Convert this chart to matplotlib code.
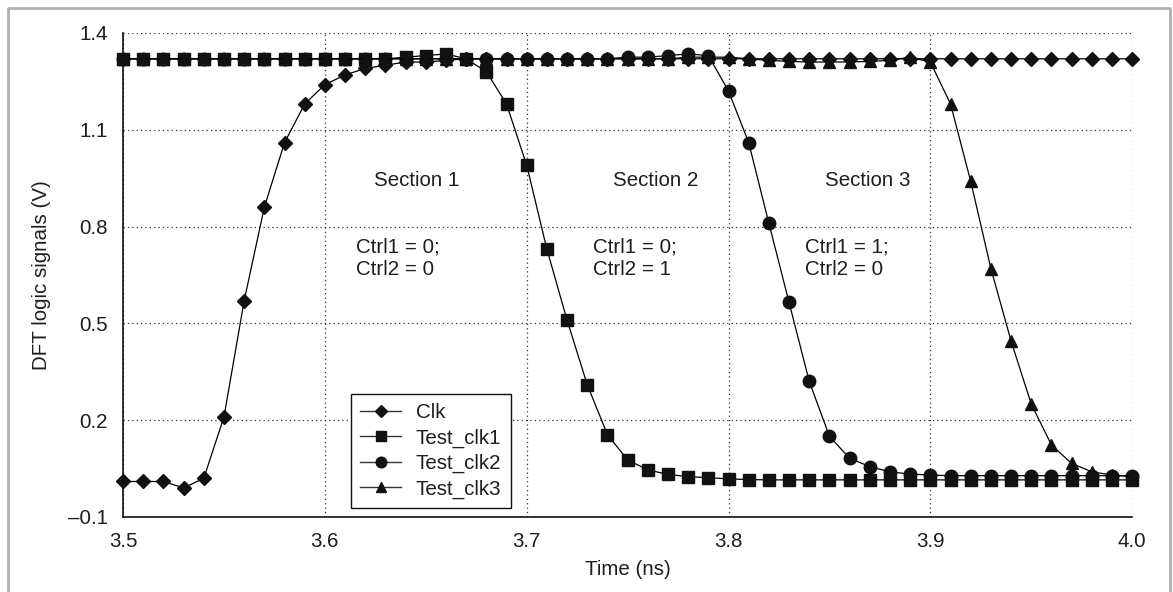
import matplotlib.pyplot as plt
from matplotlib.lines import Line2D

plt.rcParams['font.family'] = ['Liberation Sans', 'DejaVu Sans']

# time axis, one sample every 0.01 ns
time_ns = [3.50, 3.51, 3.52, 3.53, 3.54, 3.55, 3.56, 3.57, 3.58, 3.59,
           3.60, 3.61, 3.62, 3.63, 3.64, 3.65, 3.66, 3.67, 3.68, 3.69,
           3.70, 3.71, 3.72, 3.73, 3.74, 3.75, 3.76, 3.77, 3.78, 3.79,
           3.80, 3.81, 3.82, 3.83, 3.84, 3.85, 3.86, 3.87, 3.88, 3.89,
           3.90, 3.91, 3.92, 3.93, 3.94, 3.95, 3.96, 3.97, 3.98, 3.99,
           4.00]

clk = [0.01, 0.01, 0.01, -0.01, 0.02, 0.21, 0.57, 0.86, 1.06, 1.18,
       1.24, 1.27, 1.29, 1.30, 1.31, 1.31, 1.315, 1.32, 1.32, 1.32,
       1.32, 1.32, 1.32, 1.32, 1.32, 1.32, 1.32, 1.32, 1.32, 1.32,
       1.32, 1.32, 1.32, 1.32, 1.32, 1.32, 1.32, 1.32, 1.32, 1.32,
       1.32, 1.32, 1.32, 1.32, 1.32, 1.32, 1.32, 1.32, 1.32, 1.32,
       1.32]

test_clk1 = [1.32, 1.32, 1.32, 1.32, 1.32, 1.32, 1.32, 1.32, 1.32, 1.32,
             1.32, 1.32, 1.32, 1.32, 1.325, 1.33, 1.335, 1.32, 1.28, 1.18,
             0.99, 0.73, 0.51, 0.31, 0.155, 0.077, 0.046, 0.032, 0.025, 0.022,
             0.018, 0.016, 0.015, 0.015, 0.015, 0.015, 0.015, 0.015, 0.015, 0.015,
             0.015, 0.015, 0.015, 0.015, 0.015, 0.015, 0.015, 0.015, 0.015, 0.015,
             0.015]

test_clk2 = [1.32, 1.32, 1.32, 1.32, 1.32, 1.32, 1.32, 1.32, 1.32, 1.32,
             1.32, 1.32, 1.32, 1.32, 1.32, 1.32, 1.32, 1.32, 1.32, 1.32,
             1.32, 1.32, 1.32, 1.32, 1.32, 1.325, 1.325, 1.33, 1.335, 1.33,
             1.22, 1.06, 0.81, 0.565, 0.32, 0.15, 0.082, 0.056, 0.04, 0.033,
             0.03, 0.028, 0.028, 0.028, 0.028, 0.028, 0.028, 0.028, 0.028, 0.028,
             0.028]

test_clk3 = [1.32, 1.32, 1.32, 1.32, 1.32, 1.32, 1.32, 1.32, 1.32, 1.32,
             1.32, 1.32, 1.32, 1.32, 1.32, 1.32, 1.32, 1.32, 1.32, 1.32,
             1.32, 1.32, 1.32, 1.32, 1.32, 1.32, 1.32, 1.32, 1.325, 1.325,
             1.325, 1.32, 1.315, 1.312, 1.31, 1.31, 1.31, 1.312, 1.315, 1.325,
             1.31, 1.18, 0.94, 0.67, 0.445, 0.25, 0.123, 0.066, 0.04, 0.03,
             0.025]

series = [('Clk', clk, 'D', 7.0),
          ('Test_clk1', test_clk1, 's', 9),
          ('Test_clk2', test_clk2, 'o', 9),
          ('Test_clk3', test_clk3, '^', 9)]

x_ticks = [3.5, 3.6, 3.7, 3.8, 3.9, 4.0]
y_ticks = [-0.1, 0.2, 0.5, 0.8, 1.1, 1.4]

sections = [(3.6457, 'Section 1'), (3.764, 'Section 2'), (3.869, 'Section 3')]
ctrl_notes = [(3.6155, 'Ctrl1 = 0;', 'Ctrl2 = 0'),
              (3.7329, 'Ctrl1 = 0;', 'Ctrl2 = 1'),
              (3.838, 'Ctrl1 = 1;', 'Ctrl2 = 0')]

text_color = '#1e1e1e'
fs = 14.8

fig = plt.figure(figsize=(11.73, 5.92), dpi=100)
ax = fig.add_axes([0.1049, 0.1267, 0.8603, 0.8176])

for name, vals, mk, ms in series:
    ax.plot(time_ns, vals, color='black', lw=0.9, marker=mk, markersize=ms,
            markerfacecolor='#111111', markeredgecolor='#111111', label=name,
            clip_on=False, zorder=3)

ax.set_xlim(3.5, 4.0)
ax.set_ylim(-0.1, 1.4)
ax.set_xticks(x_ticks)
ax.set_xticklabels(['%.1f' % v for v in x_ticks])
ax.set_yticks(y_ticks)
ax.set_yticklabels([('\u2013%.1f' % -v) if v < 0 else '%.1f' % v for v in y_ticks])
ax.tick_params(length=0, labelsize=fs, colors=text_color)
ax.tick_params(axis='x', pad=11)
ax.tick_params(axis='y', pad=11)
ax.grid(True, linestyle=(0, (1, 2.5)), color='#333333', lw=0.9)
ax.set_axisbelow(True)
for side in ['top', 'right']:
    ax.spines[side].set_visible(False)
for side in ['left', 'bottom']:
    ax.spines[side].set_color('#111111')
    ax.spines[side].set_linewidth(1.2)

ax.set_xlabel('Time (ns)', fontsize=fs, color=text_color, labelpad=6)
ax.set_ylabel('DFT logic signals (V)', fontsize=fs, color=text_color, labelpad=12)

for xc, label in sections:
    ax.text(xc, 0.944, label, ha='center', va='center', fontsize=fs, color=text_color)
for xl, l1, l2 in ctrl_notes:
    ax.text(xl, 0.737, l1, ha='left', va='center', fontsize=fs, color=text_color)
    ax.text(xl, 0.668, l2, ha='left', va='center', fontsize=fs, color=text_color)

handles = [Line2D([], [], color='#333333', lw=1.0, marker=mk,
                  markersize=ms * 0.85, markerfacecolor='#111111',
                  markeredgecolor='#111111') for _, _, mk, ms in series]
leg = ax.legend(handles, [s[0] for s in series], loc='upper left',
                bbox_to_anchor=(0.226, 0.254), borderaxespad=0, fontsize=fs,
                frameon=True, fancybox=False, edgecolor='#111111', framealpha=1,
                handlelength=2.0, borderpad=0.45, labelspacing=0.3,
                handletextpad=0.7)
leg.get_frame().set_linewidth(1.0)
for t in leg.get_texts():
    t.set_color(text_color)

# light grey frame around the whole picture
fig.add_artist(Line2D([8 / 1173, 8 / 1173, 1170 / 1173, 1170 / 1173],
                      [0, 1 - 8 / 592, 1 - 8 / 592, 0],
                      transform=fig.transFigure, color='#b0b0b0', lw=2))

fig.savefig('out.png', dpi=100)
